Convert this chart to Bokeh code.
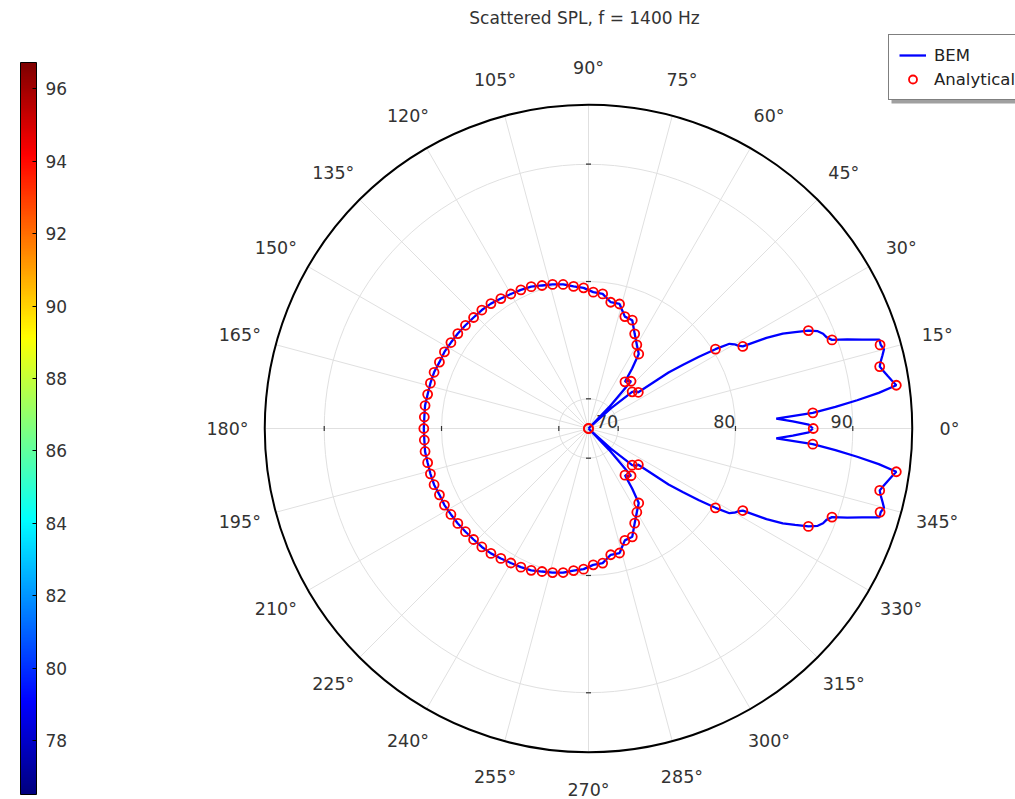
import numpy as np
from bokeh.plotting import figure
from bokeh.models import (Legend, LegendItem, ColorBar, LinearColorMapper,
                          FixedTicker, Range1d)
from bokeh.embed import file_html
from bokeh.resources import INLINE
from bokeh.core.properties import value

# ---------------- data ----------------
title_text = "Scattered SPL, f = 1400 Hz"

# radial axis (dB)
r_axis_min = 67.47
r_axis_max = 95.07
radial_ticks = [70, 80, 90]
angle_ticks = list(range(0, 360, 15))

# analytical solution, every 4 degrees
analytical_deg = list(range(0, 360, 4))
analytical_db = [
    86.63, 86.64, 93.97, 92.85, 93.33, 89.56, 87.99, 82.37, 80.23, 72.72,
    72.33, 67.47, 72.89, 72.52, 75.13, 75.71, 76.45, 77.43, 77.50, 78.41,
    78.40, 79.01, 79.10, 79.47, 79.65, 79.94, 80.13, 80.29, 80.51, 80.62,
    80.71, 80.83, 80.98, 81.06, 81.09, 81.16, 81.24, 81.30, 81.38, 81.38,
    81.48, 81.49, 81.49, 81.54, 81.50, 81.51,
    81.50, 81.54, 81.49, 81.49, 81.48, 81.38, 81.38, 81.30, 81.24, 81.16,
    81.09, 81.06, 80.98, 80.83, 80.71, 80.62, 80.51, 80.29, 80.13, 79.94,
    79.65, 79.47, 79.10, 79.01, 78.40, 78.41, 77.50, 77.43, 76.45, 75.71,
    75.13, 72.52, 72.89, 67.47, 72.33, 72.72, 80.23, 82.37, 87.99, 89.56,
    93.33, 92.85, 93.97, 86.64,
]

# BEM solution (upper half 0..180 deg)
bem_deg_upper = [0, 1, 2, 3, 4, 5, 6, 7, 8, 9, 10, 11, 12, 13, 14, 15, 16, 17,
                 18, 19, 20, 21, 22, 23, 24, 25, 26, 27, 28, 29, 30, 31, 32,
                 33, 34, 35, 36, 38, 40, 42, 44, 46, 48, 50, 52, 54, 56, 60,
                 64, 68, 72, 76, 80, 84, 88, 92, 96, 100, 104, 108, 112, 116,
                 120, 124, 128, 132, 136, 140, 144, 148, 152, 156, 160, 164,
                 168, 172, 176, 180]
bem_db_upper = [86.60, 86.25, 84.90, 83.50, 86.64, 88.60, 90.50, 92.40, 93.97,
                93.65, 93.36, 93.10, 92.85, 93.05, 93.30, 93.55, 93.38, 93.40,
                92.00, 90.80, 89.56, 89.20, 89.04, 88.70, 87.99, 86.90, 85.90,
                84.50, 82.37, 82.05, 81.83, 81.49, 80.23, 78.70, 77.20, 75.80,
                72.72, 72.60, 72.33, 70.00, 67.47, 70.00, 72.89, 72.80, 72.52,
                73.80, 75.13, 75.71, 76.45, 77.43, 77.50, 78.41, 78.40, 79.01,
                79.10, 79.47, 79.65, 79.94, 80.13, 80.29, 80.51, 80.62, 80.71,
                80.83, 80.98, 81.06, 81.09, 81.16, 81.24, 81.30, 81.38, 81.38,
                81.48, 81.49, 81.49, 81.54, 81.50, 81.51]
# BEM solution (lower half 184..360 deg)
bem_deg_lower = [184, 188, 192, 196, 200, 204, 208, 212, 216, 220, 224, 228,
                 232, 236, 240, 244, 248, 252, 256, 260, 264, 268, 272, 276,
                 280, 284, 288, 292, 296, 300, 304, 306, 308, 310, 312, 314,
                 316, 318, 320, 322, 324, 325, 326, 327, 328, 329, 330, 331,
                 332, 333, 334, 335, 336, 337, 338, 339, 340, 341, 342, 343,
                 344, 345, 346, 347, 348, 349, 350, 351, 352, 353, 354, 355,
                 356, 357, 358, 359, 360]
bem_db_lower = [81.50, 81.54, 81.49, 81.49, 81.48, 81.38, 81.38, 81.30, 81.24,
                81.16, 81.09, 81.06, 80.98, 80.83, 80.71, 80.62, 80.51, 80.29,
                80.13, 79.94, 79.65, 79.47, 79.10, 79.01, 78.40, 78.41, 77.50,
                77.43, 76.45, 75.71, 75.13, 73.80, 72.52, 72.80, 72.89, 70.00,
                67.47, 70.00, 72.33, 72.60, 72.72, 75.80, 77.20, 78.70, 80.23,
                81.49, 81.83, 82.05, 82.37, 84.50, 85.90, 86.90, 87.99, 88.70,
                89.04, 89.20, 89.56, 90.80, 92.00, 93.40, 93.38, 93.55, 93.30,
                93.05, 92.85, 93.10, 93.36, 93.65, 93.97, 92.40, 90.50, 88.60,
                86.64, 83.50, 84.90, 86.25, 86.60]

# colour bar
cb_low, cb_high = 76.51, 96.73
cb_ticks = [78, 80, 82, 84, 86, 88, 90, 92, 94, 96]

# ---------------- layout constants ----------------
W, H = 1015, 799
S = 11.73                 # pixels per dB on the polar radius
CX, CY = 588, 428         # polar centre, picture pixels
LABEL_R_PX = 361
FONT = value("DejaVu Sans")
TXT = "#333333"


def px2d(px, py):
    return (px - CX) / S, (CY - py) / S


def polar(deg, db):
    r = np.clip(np.asarray(db, float) - r_axis_min, 0, None)
    t = np.deg2rad(np.asarray(deg, float))
    return r * np.cos(t), r * np.sin(t)


x0, y1 = px2d(0, 0)
x1, y0 = px2d(W, H)

p = figure(width=W, height=H, output_backend="svg", toolbar_location=None,
           x_range=Range1d(x0, x1), y_range=Range1d(y0, y1),
           x_axis_type=None, y_axis_type=None, min_border=0,
           outline_line_color=None, background_fill_color="white",
           border_fill_color="white")

R_OUT = r_axis_max - r_axis_min

# spokes
ta = np.deg2rad(angle_ticks)
p.segment(x0=[0] * len(ta), y0=[0] * len(ta), x1=R_OUT * np.cos(ta),
          y1=R_OUT * np.sin(ta), line_color="#e0e0e0", line_width=1)
# grid circles
p.circle(x=[0] * len(radial_ticks), y=[0] * len(radial_ticks),
         radius=[t - r_axis_min for t in radial_ticks],
         fill_color=None, line_color="#e0e0e0", line_width=1)
# outer circle
p.circle(x=[0], y=[0], radius=[R_OUT], fill_color=None, line_color="black",
         line_width=2)

# little tick marks at cardinal directions on each radial circle
tx, ty, tang = [], [], []
for t in radial_ticks:
    rr = t - r_axis_min
    for a in (0, 90, 180, 270):
        tx.append(rr * np.cos(np.deg2rad(a)))
        ty.append(rr * np.sin(np.deg2rad(a)))
        tang.append(np.pi / 2 if a in (0, 180) else 0.0)
p.scatter(x=tx, y=ty, angle=tang, marker="dash", size=5, line_color="#333333",
          line_width=1.2)

# radial labels
p.text(x=[t - r_axis_min for t in radial_ticks], y=[0] * len(radial_ticks),
       text=[str(t) for t in radial_ticks], text_align="right",
       text_baseline="alphabetic", y_offset=-7, text_font=FONT,
       text_font_size="17.5px", text_color=TXT)

# angle labels
lr = LABEL_R_PX / S
p.text(x=lr * np.cos(ta), y=lr * np.sin(ta),
       text=[f"{a}°" for a in angle_ticks], text_align="center",
       text_baseline="middle", text_font=FONT, text_font_size="17.5px",
       text_color=TXT)

# data
bx, by = polar(bem_deg_upper + bem_deg_lower, bem_db_upper + bem_db_lower)
bem_r = p.line(bx, by, line_color="#0000ff", line_width=2.3)
ax, ay = polar(analytical_deg, analytical_db)
an_r = p.scatter(ax, ay, marker="circle", size=9, fill_color=None,
                 line_color="#ff0000", line_width=1.8)

# title
tx0, ty0 = px2d(584, 17)
p.text(x=[tx0], y=[ty0], text=[title_text], text_align="center",
       text_baseline="middle", text_font=FONT, text_font_size="17px",
       text_color=TXT)

# legend drop shadow (decoration)
sl, st = px2d(891, 40)
sr, sb = px2d(1015, 103)
p.quad(left=[sl], right=[sr], top=[st], bottom=[sb], fill_color="#a0a0a0",
       line_color=None)

# legend
legend = Legend(items=[LegendItem(label="BEM", renderers=[bem_r]),
                       LegendItem(label="Analytical", renderers=[an_r])],
                location=(888, 699), border_line_color="black",
                border_line_width=1, background_fill_color="white",
                background_fill_alpha=1, label_text_font="DejaVu Sans",
                label_text_font_size="16.5px", label_text_color="#222222",
                glyph_width=27, glyph_height=20, label_standoff=8, padding=10,
                spacing=4, margin=0)
p.add_layout(legend, "center")

# jet colour map
xs = np.linspace(0, 1, 256)
rr_ = np.clip(1.5 - np.abs(4 * xs - 3), 0, 1)
gg_ = np.clip(1.5 - np.abs(4 * xs - 2), 0, 1)
bb_ = np.clip(1.5 - np.abs(4 * xs - 1), 0, 1)
jet = ["#%02x%02x%02x" % (int(r * 255), int(g * 255), int(b * 255))
       for r, g, b in zip(rr_, gg_, bb_)]
mapper = LinearColorMapper(palette=jet, low=cb_low, high=cb_high)
cb = ColorBar(color_mapper=mapper, ticker=FixedTicker(ticks=cb_ticks),
              width=16, height=732, location=(20, 5), padding=0,
              background_fill_alpha=0, border_line_color=None,
              bar_line_color="black", bar_line_width=1,
              major_label_text_font="DejaVu Sans",
              major_label_text_font_size="17px", major_label_text_color=TXT,
              major_tick_line_color="black", major_tick_in=4, major_tick_out=0,
              minor_tick_line_color=None, label_standoff=9)
p.add_layout(cb, "center")

open("out.html", "w").write(file_html(p, INLINE))
